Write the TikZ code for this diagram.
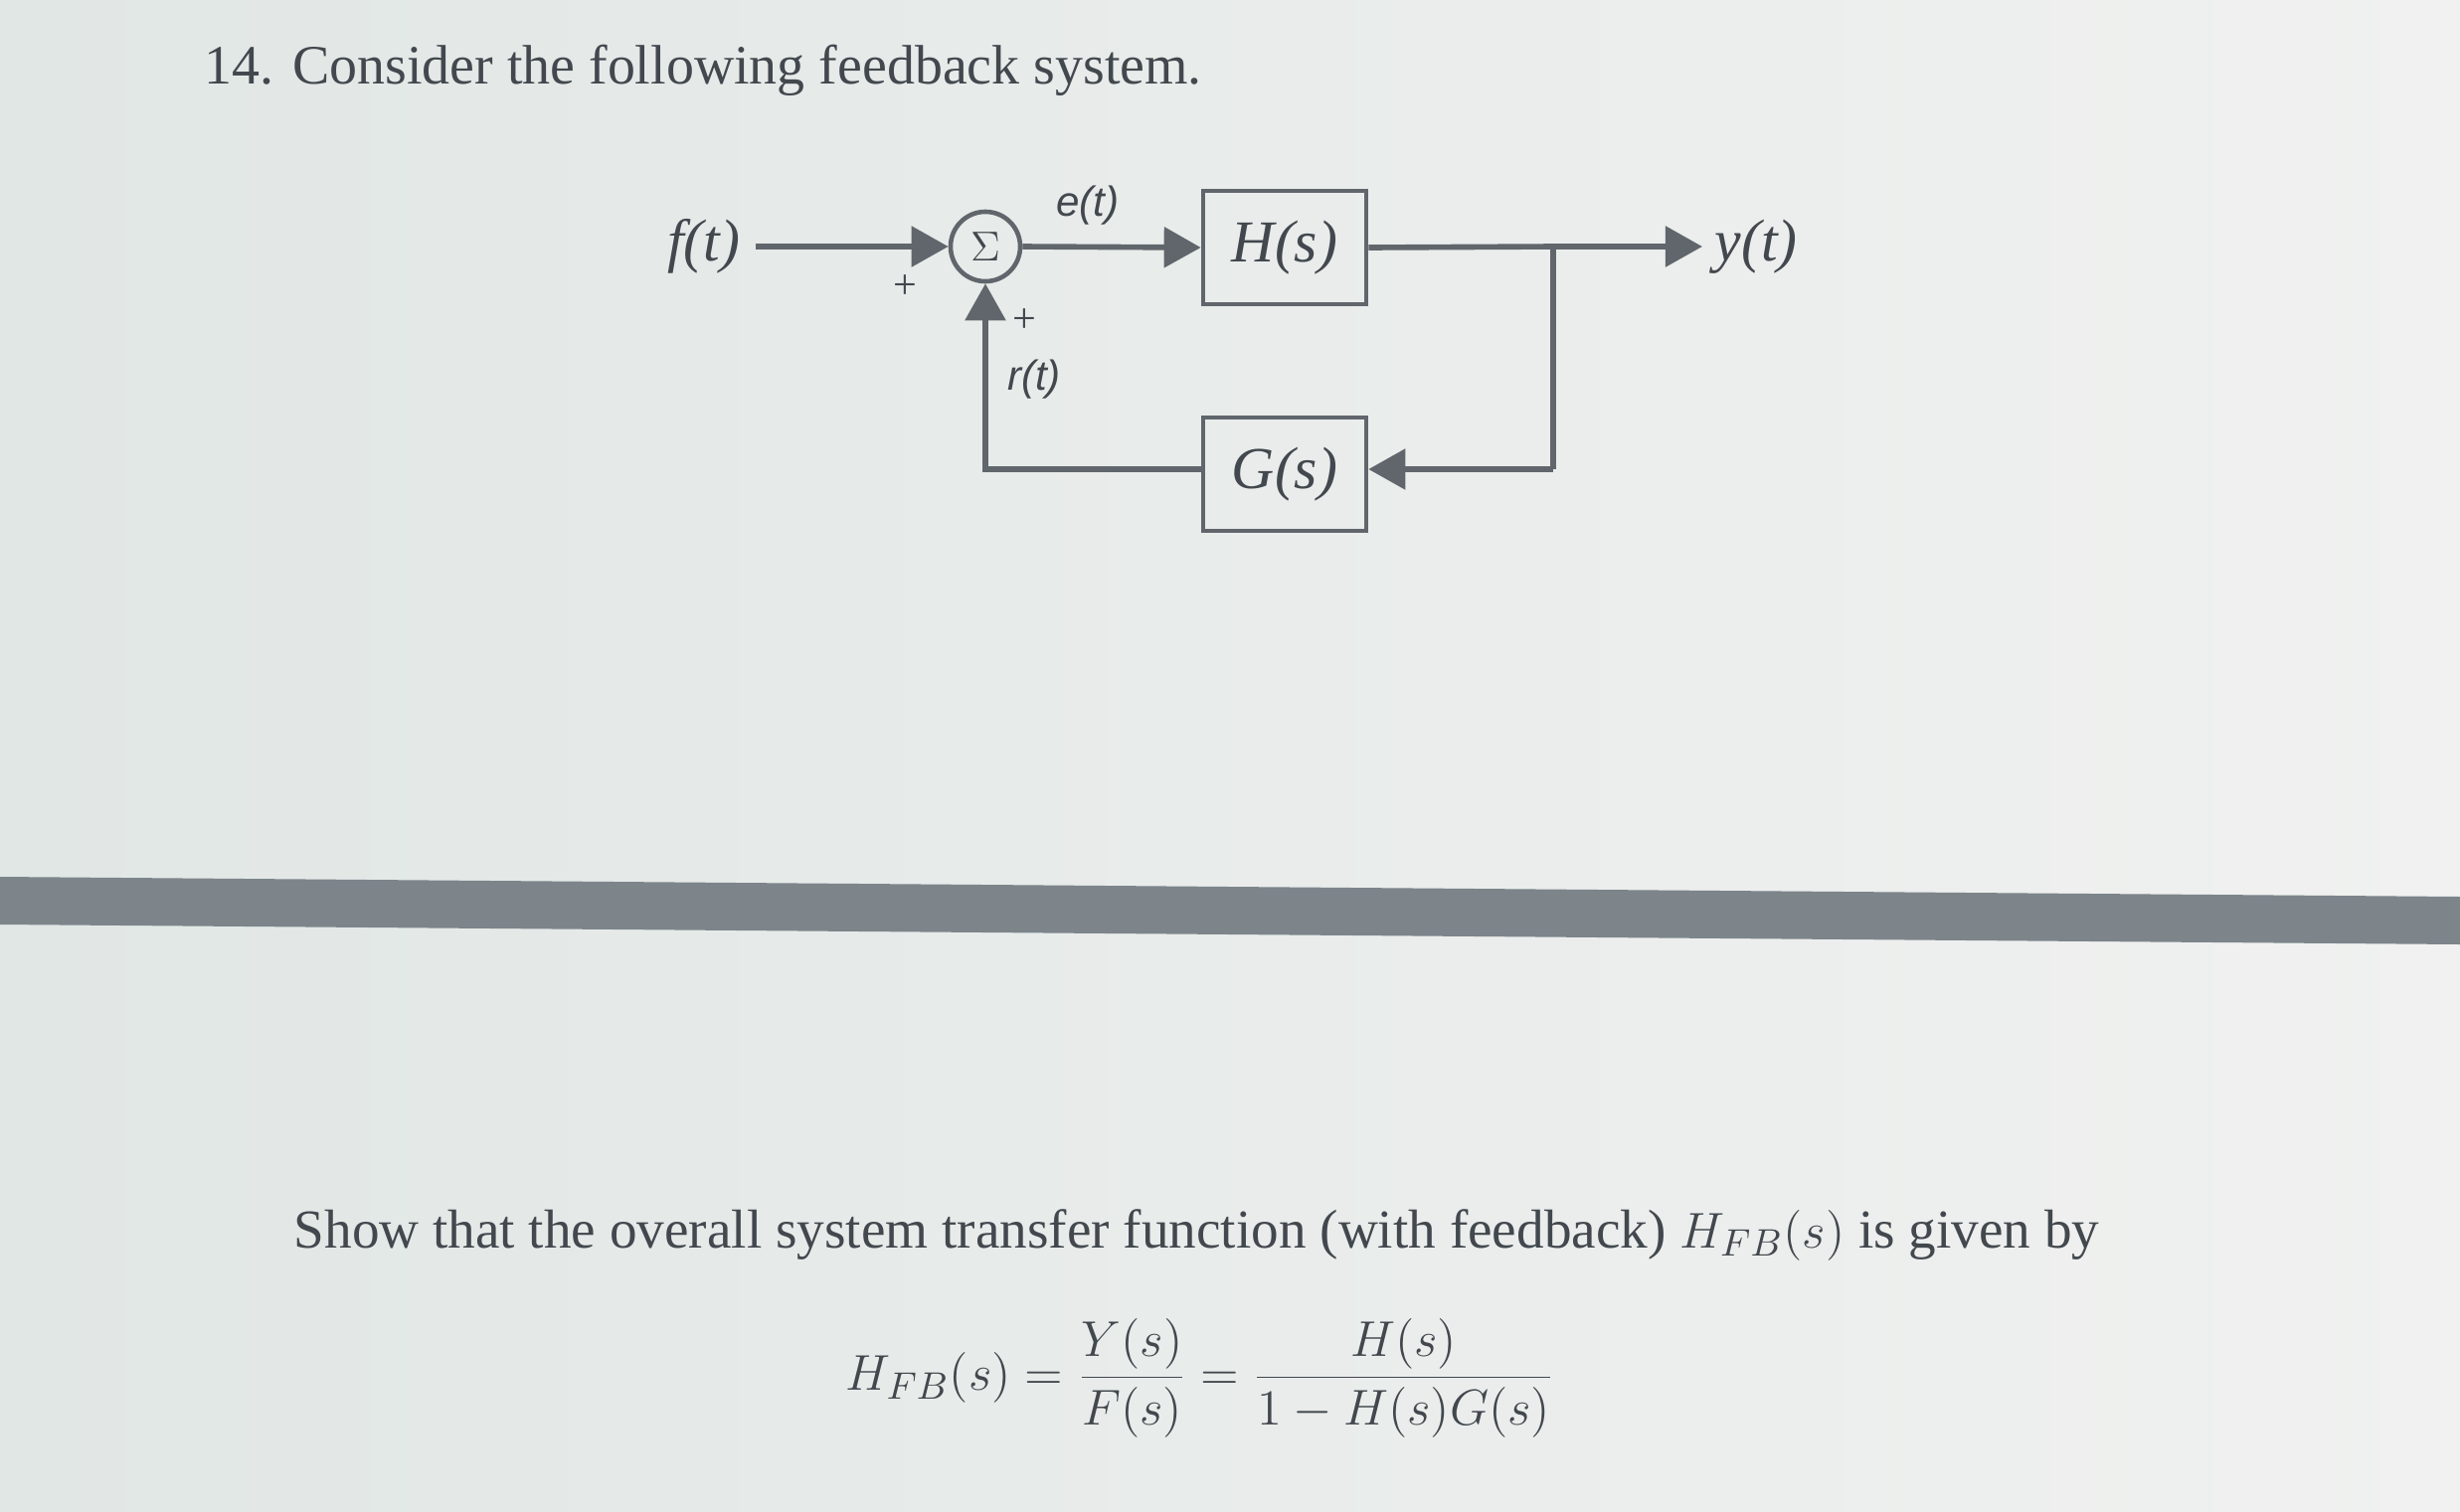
\documentclass[tikz,border=0pt]{standalone}
\usepackage{fontspec}
\setmainfont{Liberation Serif}
\setsansfont{Liberation Sans}
\usetikzlibrary{arrows.meta,calc}
\definecolor{ink}{HTML}{42484E}
\definecolor{wire}{HTML}{60666C}
\definecolor{band}{HTML}{7D858B}
\definecolor{bgl}{HTML}{E1E7E5}
\definecolor{bgr}{HTML}{F0F1F0}
\tikzset{
  wireline/.style={draw=wire, line width=1.6pt},
  arr/.style={wireline, -{Triangle[length=0.37cm,width=0.40cm]}},
  blk/.style={draw=wire, line width=1.3pt, minimum width=1.64cm, minimum height=1.14cm, inner sep=0pt, text=ink, font=\itshape\fontsize{17}{20}\selectfont},
  sumc/.style={circle, draw=wire, line width=1.3pt, minimum size=0.7cm, inner sep=0pt, text=ink, font=\fontsize{13}{15}\selectfont},
  lbl/.style={text=ink, inner sep=0pt, font=\itshape\fontsize{17}{20}\selectfont},
  slbl/.style={text=ink, inner sep=0pt, font=\sffamily\itshape\fontsize{12}{14}\selectfont},
  pm/.style={text=ink, inner sep=0pt, font=\fontsize{12}{14}\selectfont},
  txt/.style={text=ink, inner sep=0pt, anchor=base west, font=\fontsize{15.9}{19}\selectfont}
}
\begin{document}
\begin{tikzpicture}[x=0.01cm,y=-0.01cm]
\useasboundingbox (0,0) rectangle (2474,1520);
\shade[left color=bgl, right color=bgr] (0,0) rectangle (2474,1520);
\fill[band] (0,882) -- (2474,902) -- (2474,950) -- (0,930) -- cycle;

\node[txt] (title) at (205,84) {14. Consider the following feedback system.};

% diagram
\node[sumc] (sum) at (991,248) {$\Sigma$};
\node[blk] (H) at (1292,249) {H(s)};
\node[blk] (G) at (1292,477) {G(s)};
\node[lbl, anchor=east] (f) at (745,248) {f(t)};
\node[lbl, anchor=west] (y) at (1724,248) {y(t)};
\coordinate (fs) at (760,248);
\coordinate (ye) at (1712,248);
\coordinate (br) at (1562,248);
\coordinate (fb) at (1562,472);
\draw[arr] (fs) -- (sum.west);
\draw[arr] (sum.east) -- (H.west);
\draw[wireline] (H.east) -- (br);
\draw[arr] (br) -- (ye);
\draw[wireline] (br) -- (fb);
\draw[arr] (fb) -- (G.east |- fb);
\draw[arr] (G.west |- fb) -| (sum.south);
\node[slbl] (e) at (1094,207) {e(t)};
\node[slbl] (r) at (1040,382) {r(t)};
\node[pm] (p1) at (910,289) {+};
\node[pm] (p2) at (1030,323) {+};

% text
\node[txt, font=\fontsize{15.7}{19}\selectfont] (show) at (295,1255) {Show that the overall system transfer function (with feedback) $H_{FB}(s)$ is given by};
\node[text=ink, inner sep=0pt, font=\fontsize{15.7}{19}\selectfont] (eq) at (1207,1386) {$\displaystyle H_{FB}(s)=\frac{Y(s)}{F(s)}=\frac{H(s)}{1-H(s)G(s)}$};
\end{tikzpicture}
\end{document}
